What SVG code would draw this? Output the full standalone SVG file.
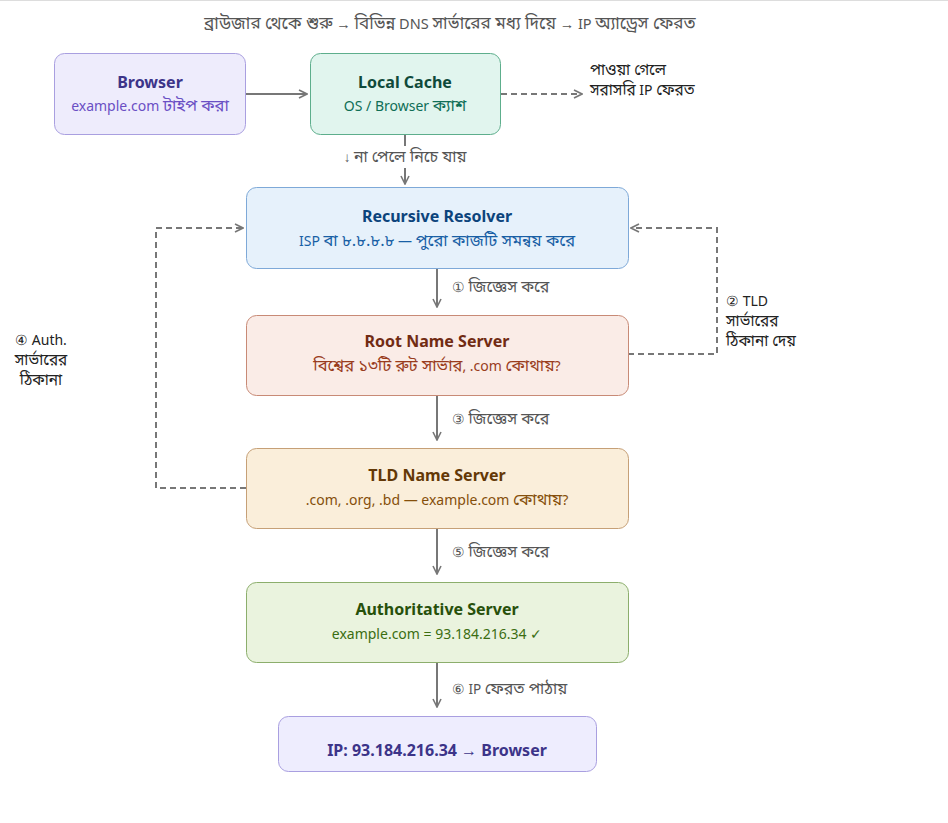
<svg xmlns="http://www.w3.org/2000/svg" width="948" height="823" viewBox="0 0 948 823">
<defs>
<style>
text{font-family:"Segoe UI","Noto Sans","Noto Sans Bengali","Open Sans",sans-serif;}
.b{font-size:118%;}
.nb{font-size:110%;}
.t{font-size:16px;font-weight:bold;text-anchor:middle;}
.s{font-size:14px;text-anchor:middle;}
.lbl{font-size:13.5px;fill:#555;}
.note{font-size:14px;fill:#222;}
.c{fill:none;stroke:#777;stroke-width:2;}
.d{fill:none;stroke:#777;stroke-width:2;stroke-dasharray:6 4;}
</style>
<marker id="ah" viewBox="0 0 10 10" refX="9" refY="5" markerWidth="10" markerHeight="10" markerUnits="userSpaceOnUse" orient="auto">
<path d="M1,1 L9,5 L1,9" fill="none" stroke="#777" stroke-width="1.6"/>
</marker>
</defs>
<rect width="948" height="823" fill="#fff"/>
<line x1="0" y1="0.5" x2="948" y2="0.5" stroke="#ddd"/>
<text x="450" y="29" style="font-size:14.5px;fill:#555;text-anchor:middle"><tspan class="b">ব্রাউজার থেকে শুরু</tspan> → <tspan class="b">বিভিন্ন</tspan> DNS <tspan class="b">সার্ভারের মধ্য দিয়ে</tspan> → IP <tspan class="b">অ্যাড্রেস ফেরত</tspan></text>

<g id="connectors">
<path class="c" d="M246,94 L307,94" marker-end="url(#ah)"/>
<path class="d" d="M501,94 L582,94" marker-end="url(#ah)"/>
<path class="c" d="M405,134 L405,146"/>
<path class="c" d="M405,168 L405,184" marker-end="url(#ah)"/>
<path class="c" d="M437,268 L437,307" marker-end="url(#ah)"/>
<path class="c" d="M437,395 L437,440" marker-end="url(#ah)"/>
<path class="c" d="M437,528 L437,574" marker-end="url(#ah)"/>
<path class="c" d="M437,662 L437,707" marker-end="url(#ah)"/>
<path class="d" d="M628,354 L717,354 L717,228 L631,228" marker-end="url(#ah)"/>
<path class="d" d="M246,488 L156,488 L156,228 L243,228" marker-end="url(#ah)"/>
<text class="note" x="590" y="75"><tspan class="nb">পাওয়া গেলে</tspan></text>
<text class="note" x="590" y="95"><tspan class="nb">সরাসরি</tspan> IP <tspan class="nb">ফেরত</tspan></text>
<text class="lbl" x="405" y="162" text-anchor="middle">↓ <tspan class="b">না পেলে নিচে যায়</tspan></text>
<text class="lbl" x="452" y="292">① <tspan class="b">জিজ্ঞেস করে</tspan></text>
<text class="lbl" x="452" y="424">③ <tspan class="b">জিজ্ঞেস করে</tspan></text>
<text class="lbl" x="452" y="557">⑤ <tspan class="b">জিজ্ঞেস করে</tspan></text>
<text class="lbl" x="452" y="694">⑥ IP <tspan class="b">ফেরত পাঠায়</tspan></text>
<text class="note" x="726" y="306">② TLD</text>
<text class="note" x="726" y="326"><tspan class="nb">সার্ভারের</tspan></text>
<text class="note" x="726" y="346"><tspan class="nb">ঠিকানা দেয়</tspan></text>
<text class="note" x="41" y="345" text-anchor="middle">④ Auth.</text>
<text class="note" x="41" y="365" text-anchor="middle"><tspan class="nb">সার্ভারের</tspan></text>
<text class="note" x="41" y="385" text-anchor="middle"><tspan class="nb">ঠিকানা</tspan></text>
</g>

<g id="browser">
<rect x="54.5" y="53.5" width="191" height="81" rx="10" fill="#eeecfc" stroke="#a99fe0"/>
<text class="t" x="150" y="88" fill="#3c3489">Browser</text>
<text class="s" x="150" y="111" fill="#6a4fc4">example.com <tspan class="b">টাইপ করা</tspan></text>
</g>
<g id="local-cache">
<rect x="310.5" y="53.5" width="190" height="81" rx="10" fill="#e1f5ee" stroke="#5dae8c"/>
<text class="t" x="405" y="88" fill="#0f4a3a">Local Cache</text>
<text class="s" x="405" y="111" fill="#0f6e56">OS / Browser <tspan class="b">ক্যাশ</tspan></text>
</g>
<g id="recursive-resolver">
<rect x="246.5" y="187.5" width="382" height="81" rx="10" fill="#e6f1fb" stroke="#7ea9d8"/>
<text class="t" x="437" y="222" fill="#0c447c">Recursive Resolver</text>
<text class="s" x="437" y="246" fill="#185fa5">ISP <tspan class="b">বা ৮.৮.৮.৮</tspan> — <tspan class="b">পুরো কাজটি সমন্বয় করে</tspan></text>
</g>
<g id="root-name-server">
<rect x="246.5" y="315.5" width="382" height="80" rx="10" fill="#faece7" stroke="#c88a76"/>
<text class="t" x="437" y="347" fill="#712b13">Root Name Server</text>
<text class="s" x="437" y="371" fill="#993c1d"><tspan class="b">বিশ্বের ১৩টি রুট সার্ভার</tspan>, .com <tspan class="b">কোথায়</tspan>?</text>
</g>
<g id="tld-name-server">
<rect x="246.5" y="448.5" width="382" height="80" rx="10" fill="#faeeda" stroke="#c6a077"/>
<text class="t" x="437" y="481" fill="#633806">TLD Name Server</text>
<text class="s" x="437" y="505" fill="#854f0b">.com, .org, .bd — example.com <tspan class="b">কোথায়</tspan>?</text>
</g>
<g id="authoritative-server">
<rect x="246.5" y="582.5" width="382" height="80" rx="10" fill="#eaf3de" stroke="#8cae6c"/>
<text class="t" x="437" y="615" fill="#27500a">Authoritative Server</text>
<text class="s" x="437" y="639" fill="#3b6d11">example.com = 93.184.216.34 ✓</text>
</g>
<g id="ip-result">
<rect x="278.5" y="716.5" width="318" height="55" rx="10" fill="#eeedfe" stroke="#a99fe0"/>
<text class="t" x="437" y="756" fill="#3c3489">IP: 93.184.216.34 → Browser</text>
</g>
</svg>
